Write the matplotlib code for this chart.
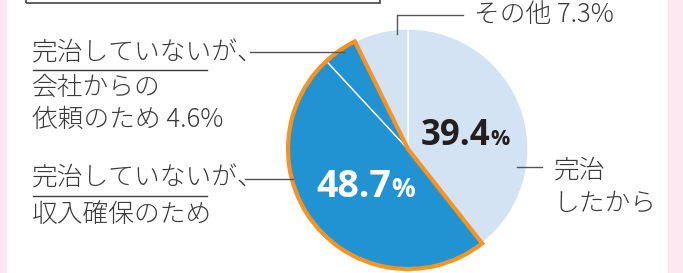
import matplotlib
matplotlib.use("Agg")
import matplotlib.pyplot as plt
from matplotlib.patches import Wedge, Rectangle

plt.rcParams['font.family'] = ['Noto Sans CJK JP', 'DejaVu Sans']

# ---- data ----
labels = ['完治したから', '完治していないが、収入確保のため', '完治していないが、会社からの依頼のため', 'その他']
values = [39.4, 48.7, 4.6, 7.3]
value_labels = ['39.4', '48.7', '4.6%', '7.3%']
group_not_cured = [1, 2]  # indices outlined in orange

W, H = 683, 273
fig = plt.figure(figsize=(W / 100, H / 100), dpi=100)
ax = fig.add_axes([0, 0, 1, 1])

def Y(py):
    return H - py

LIGHT = '#d4e3f3'
BLUE = '#2193d3'
ORANGE = '#f7931e'
TXT = '#3a3a3a'
LINE = '#555555'
PINK = '#fde8f1'

# background pink strips
ax.add_patch(Rectangle((0, 0), 7, H, color=PINK, zorder=0, lw=0))
ax.add_patch(Rectangle((668, 0), W - 668, H, color=PINK, zorder=0, lw=0))

# box at top-left
ax.add_patch(Rectangle((26, Y(3)), 380 - 26, 20, fill=False, edgecolor='#444444', lw=1.2, zorder=1))

cx, cy, r = 408, Y(149), 120
colors = [LIGHT, BLUE, BLUE, LIGHT]
ax.pie(values, colors=colors, startangle=90, counterclock=False, center=(cx, cy), radius=r,
       frame=True, wedgeprops=dict(edgecolor='white', linewidth=1.0))

# orange outline around the "not cured" group
total = sum(values)
before = sum(values[:group_not_cured[0]])
span = sum(values[i] for i in group_not_cured)
t_start = 90 - 360 * before / total
t_end = 90 - 360 * (before + span) / total
ax.add_patch(Wedge((cx, cy), r, t_end, t_start, fill=False, edgecolor=ORANGE, lw=3.0,
                   joinstyle='miter', zorder=5))

ax.set_xlim(0, W)
ax.set_ylim(0, H)
ax.set_aspect('auto')
ax.axis('off')

fs = 18.5
kw = dict(fontsize=fs, color=TXT, va='center', ha='left', fontweight='light')
# その他
ax.plot([397, 397, 463], [Y(34), Y(15), Y(15)], color=LINE, lw=1.0, zorder=6)
ax.text(474, Y(15), 'その他 ' + value_labels[3], **kw)

# 会社からの依頼
ax.plot([250, 344], [Y(52), Y(52)], color=LINE, lw=1.0, zorder=6)
ax.text(32, Y(53), '完治していないが、', **kw)
ax.plot([33, 207], [Y(70), Y(70)], color=TXT, lw=1.0)
ax.text(32, Y(87), '会社からの', **kw)
ax.text(32, Y(120), '依頼のため ' + value_labels[2], **kw)

# 収入確保
ax.plot([245, 293], [Y(179), Y(179)], color=LINE, lw=1.0, zorder=6)
ax.text(32, Y(178), '完治していないが、', **kw)
ax.plot([33, 207], [Y(196), Y(196)], color=TXT, lw=1.0)
ax.text(32, Y(215), '収入確保のため', **kw)

# 完治したから
ax.plot([517, 542], [Y(167), Y(167)], color=LINE, lw=1.0, zorder=6)
ax.text(554, Y(170), '完治', **kw)
ax.text(554, Y(203), 'したから', **kw)

# big percentages (digits + smaller % on same baseline)
big = [(value_labels[0], 421, 145, 25, 15.5, '#231f20'),
       (value_labels[1], 316, 197, 27, 19, 'white')]
fig.canvas.draw()
rend = fig.canvas.get_renderer()
for s, x, base, fsz, psz, col in big:
    t = ax.text(x, Y(base), s, fontsize=fsz, fontweight='bold', family='Open Sans',
                color=col, va='baseline', ha='left', zorder=7)
    bb = t.get_window_extent(renderer=rend)
    x_end = ax.transData.inverted().transform((bb.x1, bb.y0))[0]
    ax.text(x_end, Y(base), '%', fontsize=psz, fontweight='bold', family='Open Sans',
            color=col, va='baseline', ha='left', zorder=7)

fig.savefig('out.png', dpi=100, facecolor='white')
